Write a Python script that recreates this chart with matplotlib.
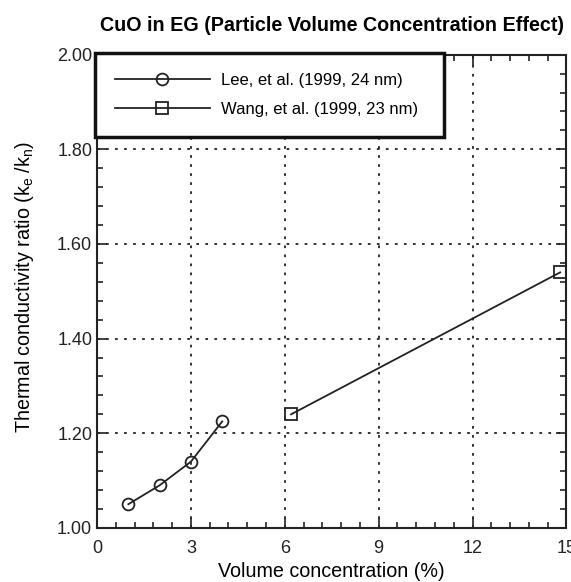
import matplotlib
matplotlib.use("Agg")
import matplotlib.pyplot as plt
from matplotlib.ticker import MultipleLocator, FormatStrFormatter

plt.rcParams['font.family'] = ['Liberation Sans', 'DejaVu Sans']
plt.rcParams['mathtext.fontset'] = 'custom'
plt.rcParams['mathtext.rm'] = 'Liberation Sans'
plt.rcParams['mathtext.it'] = 'Liberation Sans'

# CuO in ethylene glycol, volume concentration (%) vs k_e/k_n
lee_conc = [1.0, 2.0, 3.0, 4.0]
lee_ratio = [1.05, 1.09, 1.14, 1.225]
wang_conc = [6.2, 14.8]
wang_ratio = [1.24, 1.54]

lee_label = "Lee, et al. (1999, 24 nm)"
wang_label = "Wang, et al. (1999, 23 nm)"

fig = plt.figure(figsize=(5.71, 5.82), dpi=100)
ax = fig.add_axes([0.170, 0.093, 0.822, 0.813])

ax.plot(lee_conc, lee_ratio, "-o", color="#222222", lw=1.3,
        markersize=8.5, markerfacecolor="none", markeredgewidth=1.3,
        label=lee_label)
ax.plot(wang_conc, wang_ratio, "-s", color="#222222", lw=1.3,
        markersize=8, markerfacecolor="none", markeredgewidth=1.3,
        label=wang_label)

ax.set_xlim(0, 15)
ax.set_ylim(1.0, 2.0)
ax.xaxis.set_major_locator(MultipleLocator(3))
ax.xaxis.set_minor_locator(MultipleLocator(0.6))
ax.yaxis.set_major_locator(MultipleLocator(0.2))
ax.yaxis.set_minor_locator(MultipleLocator(0.04))
ax.yaxis.set_major_formatter(FormatStrFormatter("%.2f"))

ax.tick_params(which="both", direction="in", top=True, right=True,
               labelsize=13, colors="#222222", width=1.2)
ax.tick_params(which="major", length=7.5)
ax.tick_params(which="minor", length=4)
ax.tick_params(axis="x", which="major", pad=9)
ax.tick_params(axis="y", which="major", pad=3.5)
for s in ax.spines.values():
    s.set_linewidth(1.5)
    s.set_color("#222222")

ax.grid(True, which="major", color="#222222", linestyle=(0, (1.5, 3.5)),
        linewidth=1.3)

ax.set_xlabel("Volume concentration (%)", fontsize=14.2, labelpad=3)
ax.set_ylabel(r"Thermal conductivity ratio (k$_{e}$ /k$_{n}$)",
              fontsize=14.2)
ax.yaxis.set_label_coords(-0.13, 0.51)
ax.set_title("CuO in EG (Particle Volume Concentration Effect)",
             fontsize=14.2, fontweight="bold", pad=17)

leg = ax.legend(loc="upper left", bbox_to_anchor=(-0.005, 1.004, 0.745, 0.0),
                mode="expand", borderaxespad=0, fontsize=12,
                handlelength=5.7, handletextpad=0.7, labelspacing=0.85,
                borderpad=1.2, fancybox=False, framealpha=1,
                edgecolor="#111111", numpoints=1)
leg.get_frame().set_linewidth(2.5)

fig.savefig("out.png", dpi=100)
